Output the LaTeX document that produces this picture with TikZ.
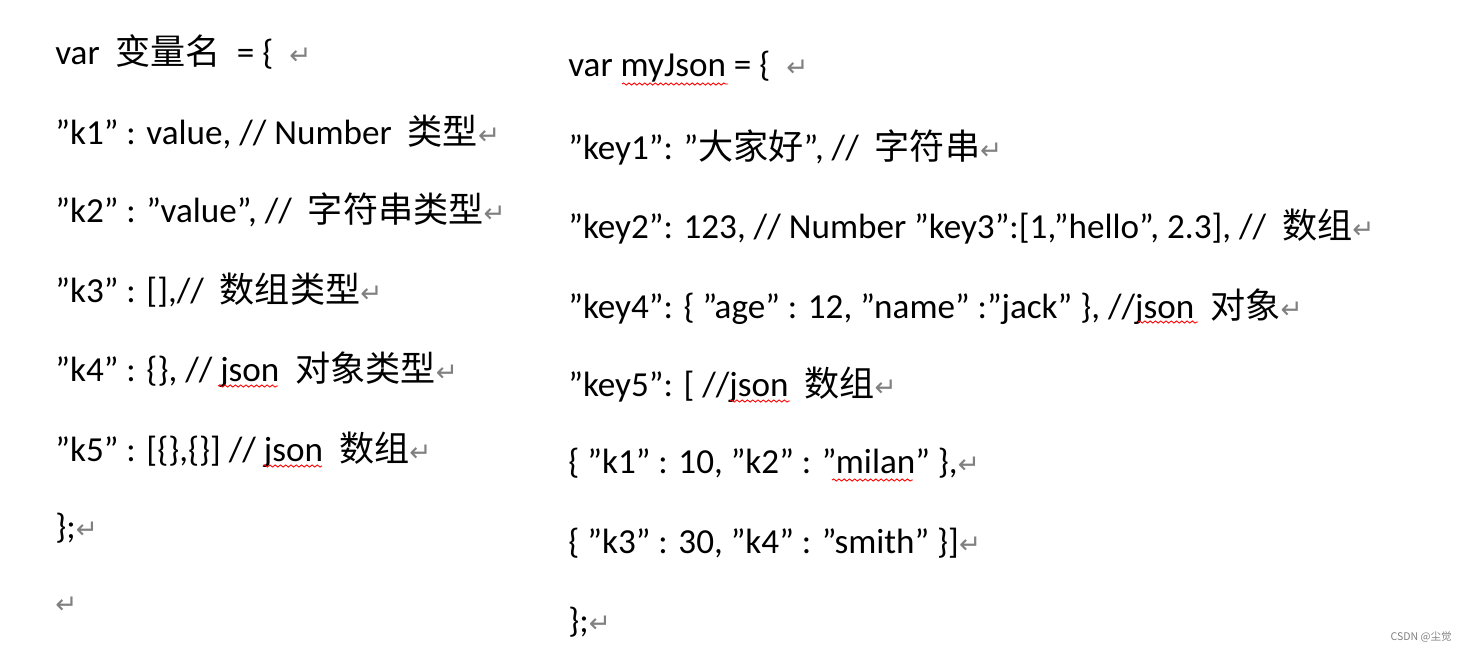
\documentclass[tikz,border=0pt]{standalone}
\usepackage{fontspec}
\setmainfont{Carlito}
\newfontfamily\cjk{Noto Sans CJK SC}
\newfontfamily\symfont{DejaVu Sans}
\usetikzlibrary{decorations.pathmorphing}
\newcommand{\zh}[1]{{\cjk #1}}
\newcommand{\q}{\symbol{34}}
\newcommand{\ret}{{\symfont\color{gray}\fontsize{15}{15}\selectfont ↵}}

\begin{document}
\begin{tikzpicture}[x=0.02cm, y=-0.02cm,
    codeline/.style={anchor=west, inner sep=0pt, font=\fontsize{20}{24}\selectfont},
    spell/.style={red, line width=0.5pt, decorate, decoration={snake, amplitude=0.6pt, segment length=3pt}}
]
\useasboundingbox (0,0) rectangle (1468,653);

% linke Spalte
\node[codeline] (l1) at (55,52) {var\ \ \zh{变量名}\ \ = \{\ \ \ret};
\node[codeline] (l2) at (55,132) {\q k1\q{} : value, // Number\ \ \zh{类型}\ret};
\node[codeline] (l3) at (55,210) {\q k2\q{} : \q value\q, //\ \ \zh{字符串类型}\ret};
\node[codeline] (l4) at (55,290) {\q k3\q{} : [],//\ \ \zh{数组类型}\ret};
\node[codeline] (l5) at (55,370) {\q k4\q{} : \{\}, // json\ \ \zh{对象类型}\ret};
\node[codeline] (l6) at (55,450) {\q k5\q{} : [\{\},\{\}] // json\ \ \zh{数组}\ret};
\node[codeline] (l7) at (55,528) {\};\ret};
\node[codeline] (l8) at (55,605) {\ret};

% rechte Spalte
\node[codeline] (r1) at (568,67) {var myJson = \{\ \ \ret};
\node[codeline] (r2) at (568,147) {\q key1\q: \q\zh{大家好}\q, //\ \ \zh{字符串}\ret};
\node[codeline] (r3) at (568,227) {\q key2\q: 123, // Number \q key3\q:[1,\q hello\q, 2.3], //\ \ \zh{数组}\ret};
\node[codeline] (r4) at (568,307) {\q key4\q: \{ \q age\q{} : 12, \q name\q{} :\q jack\q{} \}, //json\ \ \zh{对象}\ret};
\node[codeline] (r5) at (568,385) {\q key5\q: [ //json\ \ \zh{数组}\ret};
\node[codeline] (r6) at (568,463) {\{ \q k1\q{} : 10, \q k2\q{} : \q milan\q{} \},\ret};
\node[codeline] (r7) at (568,543) {\{ \q k3\q{} : 30, \q k4\q{} : \q smith\q{} \}]\ret};
\node[codeline] (r8) at (568,622) {\};\ret};

% Rechtschreibmarkierungen
\draw[spell] (218,386) -- (278,386);
\draw[spell] (263,466) -- (322,466);
\draw[spell] (622,84) -- (728,84);
\draw[spell] (1138,322) -- (1198,322);
\draw[spell] (730,401) -- (790,401);
\draw[spell] (832,480) -- (913,480);

\node[anchor=east, inner sep=0pt, gray, font=\cjk\fontsize{6}{7}\selectfont] (mark) at (1452,637) {CSDN @尘觉};
\end{tikzpicture}
\end{document}
